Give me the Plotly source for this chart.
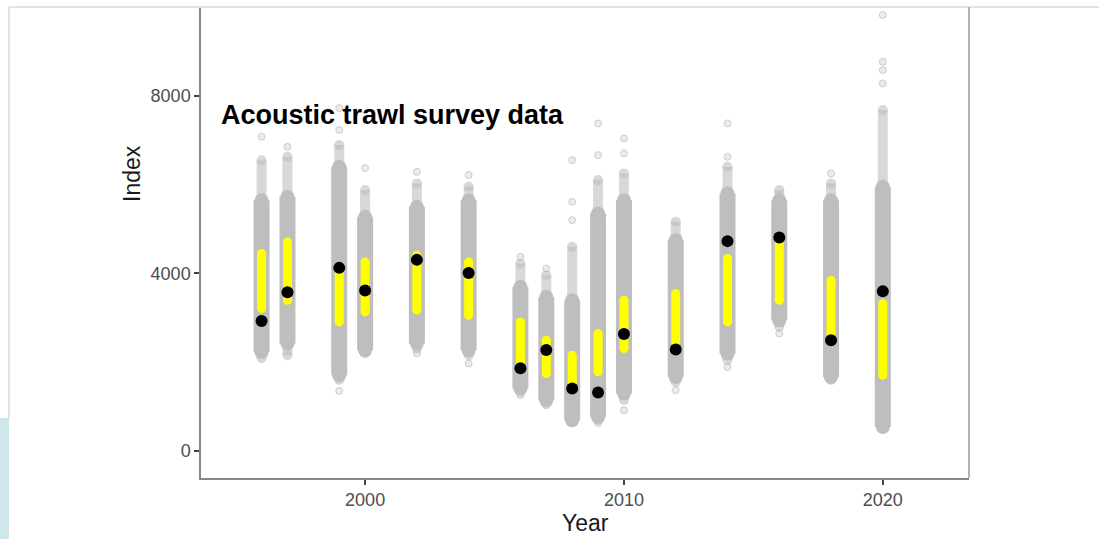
import plotly.graph_objects as go

# ---- data ----
years = [1996, 1997, 1999, 2000, 2002, 2004, 2006, 2007, 2008, 2009, 2010, 2012, 2014, 2016, 2018, 2020]
observed = [2930, 3576, 4124, 3615, 4304, 4011, 1864, 2276, 1406, 1316, 2637, 2285, 4726, 4809, 2495, 3599]
interval_lo = [3209, 3396, 2907, 3132, 3171, 3058, 2006, 1744, 1519, 1781, 2307, 2456, 2907, 3396, 2645, 1706]
interval_hi = [4448, 4710, 4004, 4259, 4410, 4259, 2907, 2495, 2157, 2645, 3396, 3547, 4336, 4674, 3847, 3322]
dense_lo = [2231, 2420, 1706, 2269, 2420, 2269, 1406, 1143, 692, 766, 1293, 1668, 2195, 2945, 1668, 541]
dense_hi = [5645, 5724, 6400, 5273, 5498, 5645, 3696, 3470, 3396, 5349, 5645, 4748, 5800, 5645, 5645, 5950]
sparse_lo = [2089, 2157, 1600, 2200, 2300, 2150, 1330, 1080, 650, 700, 1150, 1550, 2050, 2800, 1600, 500]
sparse_hi = [6547, 6625, 6889, 5875, 6026, 5950, 4223, 3959, 4597, 6100, 6251, 5161, 6400, 5875, 6026, 7678]
outlier_year = [1996, 1997, 1999, 1999, 1999, 2000, 2002, 2002, 2004, 2004, 2006, 2006, 2007, 2007,
                2008, 2008, 2008, 2009, 2009, 2009, 2010, 2010, 2010, 2012, 2014, 2014, 2014,
                2016, 2018, 2020, 2020, 2020, 2020]
outlier_value = [7076, 6850, 7227, 7723, 1352, 6371, 6287, 2195, 6213, 1970, 4372, 1255, 4110, 1030,
                 5199, 5611, 6551, 6663, 7377, 631, 6702, 7040, 917, 1368, 6625, 7377, 1893,
                 2645, 6251, 8279, 8579, 8767, 9818]
x_ticks = [2000, 2010, 2020]
y_ticks = [0, 4000, 8000]


def segs(lo, hi):
    xs, ys = [], []
    for yr, a, b in zip(years, lo, hi):
        xs += [yr, yr, None]
        ys += [a, b, None]
    return xs, ys


fig = go.Figure()

sx, sy = segs(sparse_lo, sparse_hi)
fig.add_trace(go.Scatter(x=sx, y=sy, mode="lines+markers",
                         line=dict(color="rgba(190,190,190,0.6)", width=10),
                         marker=dict(color="rgba(190,190,190,0.6)", size=10),
                         hoverinfo="skip", showlegend=False))
fig.add_trace(go.Scatter(x=outlier_year, y=outlier_value, mode="markers",
                         marker=dict(color="rgba(190,190,190,0.3)", size=7,
                                     line=dict(color="rgba(170,170,170,0.5)", width=1)),
                         hoverinfo="skip", showlegend=False))
dx, dy = segs(dense_lo, dense_hi)
fig.add_trace(go.Scatter(x=dx, y=dy, mode="lines+markers",
                         line=dict(color="#bebebe", width=16),
                         marker=dict(color="#bebebe", size=14),
                         hoverinfo="skip", showlegend=False))
yx, yy = segs(interval_lo, interval_hi)
fig.add_trace(go.Scatter(x=yx, y=yy, mode="lines+markers",
                         line=dict(color="#ffff00", width=9),
                         marker=dict(color="#ffff00", size=9), hoverinfo="skip", showlegend=False))
fig.add_trace(go.Scatter(x=years, y=observed, mode="markers",
                         marker=dict(color="black", size=12), showlegend=False))

W, H = 1099, 539
L, R, T, B = 201, 969, 8, 478
pw, ph = R - L, B - T


def px(xp):
    return (xp - L) / pw


def py(yp):
    return (B - yp) / ph


shapes = [
    dict(type="line", xref="paper", yref="paper", x0=px(9), x1=px(1099), y0=py(7), y1=py(7),
         line=dict(color="#e3e3e3", width=2)),
    dict(type="line", xref="paper", yref="paper", x0=px(9), x1=px(9), y0=py(7), y1=py(418),
         line=dict(color="#e3e3e3", width=2)),
    dict(type="rect", xref="paper", yref="paper", x0=px(0), x1=px(9), y0=py(418), y1=py(539),
         line=dict(width=0), fillcolor="#cfe6ea"),
    dict(type="line", xref="paper", yref="paper", x0=1, x1=1, y0=0, y1=py(7),
         line=dict(color="#b3b3b3", width=2)),
]

tickfont = dict(family="Liberation Sans, Arial, sans-serif", size=18, color="#4d4d4d")
fig.update_layout(
    width=W, height=H,
    margin=dict(l=L, r=W - R, t=T, b=H - B, pad=0),
    plot_bgcolor="white", paper_bgcolor="white",
    shapes=shapes,
    xaxis=dict(range=[1993.66, 2023.33], tickvals=x_ticks, ticks="outside", ticklen=5,
               tickwidth=1.5, tickcolor="#444444", showgrid=False, zeroline=False,
               showline=True, linecolor="#888888", linewidth=1.5, tickfont=tickfont),
    yaxis=dict(range=[-608, 9976], tickvals=y_ticks, ticks="outside", ticklen=5,
               tickwidth=1.5, tickcolor="#444444", showgrid=False, zeroline=False,
               showline=True, linecolor="#888888", linewidth=1.5, tickfont=tickfont),
    annotations=[
        dict(text="<b>Acoustic trawl survey data</b>", xref="paper", yref="paper",
             x=px(219), y=py(115), xanchor="left", yanchor="middle", showarrow=False,
             font=dict(family="Liberation Sans, Arial", size=27, color="black")),
        dict(text="Year", xref="paper", yref="paper", x=px(585), y=py(523),
             xanchor="center", yanchor="middle", showarrow=False,
             font=dict(family="Liberation Sans, Arial", size=23, color="#1a1a1a")),
        dict(text="Index", xref="paper", yref="paper", x=px(132), y=py(174),
             xanchor="center", yanchor="middle", showarrow=False, textangle=-90,
             font=dict(family="Liberation Sans, Arial", size=23, color="#1a1a1a")),
    ],
)

fig.write_html("out.html")
